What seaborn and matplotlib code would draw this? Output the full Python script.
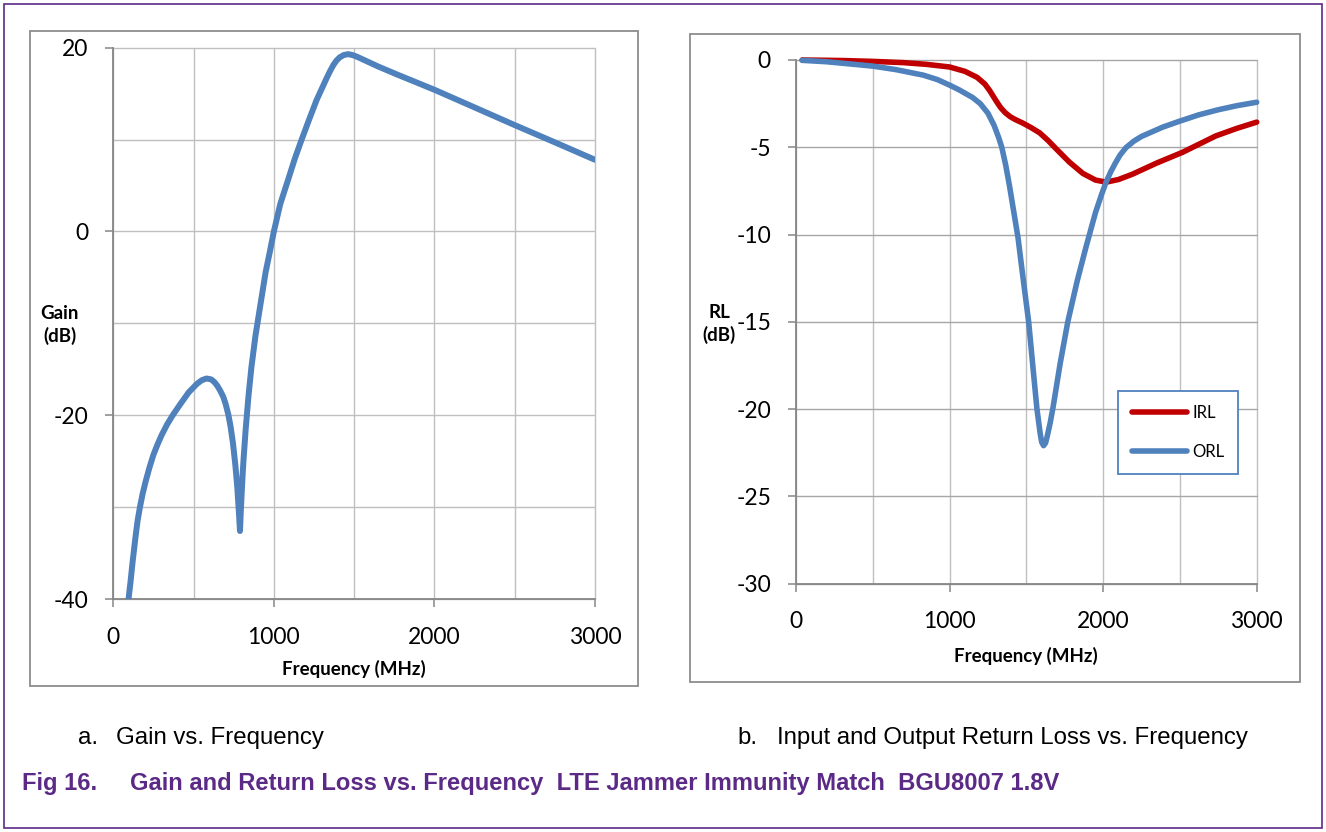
import numpy as np
import pandas as pd
import matplotlib
matplotlib.use("Agg")
import matplotlib.pyplot as plt
from matplotlib.patches import Rectangle
from matplotlib.ticker import MultipleLocator
from matplotlib import font_manager
import seaborn as sns

# ---- Gain vs. frequency (MHz, dB) ----
gain_freq = [95, 108, 120, 130, 140, 152, 166, 182, 200, 225, 250, 275, 300, 335, 370,
             417, 470, 520, 550, 580, 610, 630, 648, 665, 685, 700, 716, 730, 745,
             760, 772, 782, 789, 794, 800, 806, 812, 825, 842, 860, 885, 915, 949,
             975, 1000, 1040, 1090, 1130, 1173, 1220, 1266, 1300, 1329, 1350, 1370,
             1390, 1410, 1435, 1463, 1490, 1520, 1557, 1650, 1765, 2003, 2250, 2497,
             2750, 3000]
gain_db = [-40, -38, -36, -34.5, -33, -31.4, -30, -28.6, -27.3, -25.7, -24.3, -23.2,
           -22.2, -21.0, -20.0, -18.8, -17.5, -16.6, -16.2, -16.0, -16.1, -16.4, -16.8,
           -17.3, -18.0, -18.8, -19.9, -21.2, -23.0, -25.4, -27.8, -30.5, -32.6, -30.5,
           -28.3, -26.3, -24.6, -21.4, -17.9, -14.8, -11.4, -8.1, -4.4, -2.2, 0, 3.0,
           5.7, 7.9, 10.0, 12.2, 14.3, 15.6, 16.7, 17.45, 18.1, 18.6, 18.95, 19.2, 19.3,
           19.2, 19.0, 18.7, 17.95, 17.1, 15.4, 13.5, 11.6, 9.7, 7.8]

# ---- Input return loss (MHz, dB) ----
irl_freq = [40, 300, 500, 700, 850, 1000, 1100, 1180, 1230, 1261, 1300, 1330, 1360,
            1395, 1430, 1478, 1530, 1586, 1640, 1695, 1780, 1868, 1950, 2019, 2100,
            2192, 2350, 2517, 2630, 2734, 2870, 3000]
irl_db = [0, -0.03, -0.08, -0.15, -0.25, -0.4, -0.65, -1.0, -1.38, -1.75, -2.3, -2.7,
          -3.0, -3.25, -3.42, -3.62, -3.87, -4.17, -4.6, -5.1, -5.85, -6.5, -6.88, -7.0,
          -6.85, -6.54, -5.9, -5.29, -4.8, -4.35, -3.92, -3.56]

# ---- Output return loss (MHz, dB) ----
orl_freq = [40, 200, 500, 650, 830, 920, 1000, 1060, 1110, 1150, 1200, 1250, 1290,
            1320, 1340, 1365, 1390, 1420, 1446, 1480, 1515, 1545, 1569, 1590, 1600,
            1612, 1625, 1635, 1655, 1674, 1720, 1770, 1830, 1886, 1950, 1990, 2019,
            2050, 2080, 2110, 2149, 2200, 2250, 2387, 2500, 2620, 2750, 2870, 3000]
orl_db = [-0.02, -0.1, -0.35, -0.55, -0.87, -1.12, -1.44, -1.7, -1.95, -2.15, -2.5,
          -3.05, -3.75, -4.45, -5.0, -6.0, -7.2, -8.8, -10.2, -12.6, -15.0, -17.8,
          -20.0, -21.4, -21.9, -22.1, -21.95, -21.6, -20.8, -19.9, -17.4, -15.0, -12.7,
          -10.8, -8.75, -7.7, -7.0, -6.4, -5.9, -5.45, -5.02, -4.65, -4.38, -3.85,
          -3.5, -3.15, -2.85, -2.62, -2.42]

freq_ticks = [0, 1000, 2000, 3000]
gain_ticks = [-40, -20, 0, 20]
rl_ticks = [-30, -25, -20, -15, -10, -5, 0]

BLUE = "#4F81BD"
RED = "#C00000"
AXIS_GRAY = "#868686"
GRID_GRAY = "#BFBFBF"
PURPLE = "#5B2A86"

sns.set_theme(style="white")
plt.rcParams["font.family"] = ["Lato", "DejaVu Sans"]
plt.rcParams["axes.unicode_minus"] = False

W, H = 1326, 832
fig = plt.figure(figsize=(W / 100, H / 100), dpi=100)
fig.patch.set_facecolor("white")


def fx(px):
    return px / W


def fy(py):
    return 1 - py / H


def frame(x0, y0, x1, y1, color, lw):
    fig.patches.append(Rectangle((fx(x0), fy(y1)), fx(x1) - fx(x0), fy(y0) - fy(y1),
                                 transform=fig.transFigure, fill=False,
                                 edgecolor=color, linewidth=lw, zorder=0))


# page border and chart frames
frame(4, 4, 1322, 828, PURPLE, 1.2)
frame(30, 31, 638, 686, "#8C8C8C", 1.3)
frame(690, 34, 1300, 682, "#8C8C8C", 1.3)

ax1 = fig.add_axes([fx(113.3), fy(599), fx(595) - fx(113.3), fy(47.7) - fy(599)])
ax2 = fig.add_axes([fx(796), fy(583.5), fx(1256.7) - fx(796), fy(60) - fy(583.5)])


def style_axes(ax, yminor, hgrid):
    ax.set_xlim(0, 3000)
    ax.set_xticks(freq_ticks)
    ax.xaxis.set_minor_locator(MultipleLocator(500))
    ax.yaxis.set_minor_locator(MultipleLocator(yminor))
    ax.set_axisbelow(True)
    ax.grid(which="both", axis="x", color=GRID_GRAY, linewidth=1.0)
    ax.grid(which="both", axis="y", color=hgrid, linewidth=1.0)
    for gl in ax.get_xgridlines() + ax.get_ygridlines():
        gl.set_clip_on(False)
    ax.tick_params(which="minor", length=0)
    ax.tick_params(which="major", direction="out", length=6, width=1.1,
                   color=AXIS_GRAY, labelsize=16.5, labelcolor="black")
    ax.tick_params(axis="y", pad=12, left=True)
    ax.tick_params(axis="x", pad=14, bottom=True)
    for s in ["top", "right"]:
        ax.spines[s].set_visible(False)
    for s in ["left", "bottom"]:
        ax.spines[s].set_color(AXIS_GRAY)
        ax.spines[s].set_linewidth(1.3)
        ax.spines[s].set_zorder(1.5)


# ---- left panel: gain ----
gain_df = pd.DataFrame({"Frequency (MHz)": gain_freq, "Gain (dB)": gain_db})
sns.lineplot(data=gain_df, x="Frequency (MHz)", y="Gain (dB)", ax=ax1, color=BLUE,
             linewidth=4.3, estimator=None, sort=False,
             solid_capstyle="round", solid_joinstyle="round")
ax1.set_ylim(-40, 20)
ax1.set_yticks(gain_ticks)
style_axes(ax1, 10, GRID_GRAY)

ax1.set_xlabel("Frequency (MHz)", fontsize=13.5, fontweight="bold", color="black")
ax1.xaxis.label.set_va("center")
ax1.xaxis.set_label_coords(0.5, -0.127)
ax1.set_ylabel("Gain\n(dB)", rotation=0, fontsize=13.5, fontweight="bold",
               color="black", ha="center", va="center", linespacing=1.3)
ax1.yaxis.set_label_coords(-0.111, 0.497)

# ---- right panel: return loss ----
rl_df = pd.concat([
    pd.DataFrame({"f": irl_freq, "rl": irl_db, "series": "IRL"}),
    pd.DataFrame({"f": orl_freq, "rl": orl_db, "series": "ORL"}),
], ignore_index=True)
sns.lineplot(data=rl_df, x="f", y="rl", hue="series",
             palette={"IRL": RED, "ORL": BLUE}, hue_order=["IRL", "ORL"],
             ax=ax2, linewidth=4.0, estimator=None, sort=False, legend=False,
             solid_capstyle="round", solid_joinstyle="round")
for ln in ax2.get_lines():
    ln.set_clip_on(False)
ax2.set_ylim(-30, 0)
ax2.set_yticks(rl_ticks)
style_axes(ax2, 5, "#A6A6A6")

ax2.set_xlabel("Frequency (MHz)", fontsize=13.5, fontweight="bold", color="black")
ax2.xaxis.label.set_va("center")
ax2.xaxis.set_label_coords(0.5, -0.1385)
ax2.set_ylabel("RL\n(dB)", rotation=0, fontsize=13.5, fontweight="bold",
               color="black", ha="center", va="center", linespacing=1.3)
ax2.yaxis.set_label_coords(-0.167, 0.496)

leg = ax2.legend(handles=ax2.get_lines()[:2], labels=["IRL", "ORL"],
                 loc="upper left", bbox_to_anchor=(0.699, 0.3677),
                 frameon=True, fancybox=False, fontsize=12, handlelength=3.3,
                 handletextpad=0.3, labelspacing=1.35, borderpad=0.85,
                 borderaxespad=0)
leg.get_frame().set_edgecolor(BLUE)
leg.get_frame().set_linewidth(1.3)
leg.get_frame().set_facecolor("white")
leg.get_frame().set_alpha(1)
for t in leg.get_texts():
    t.set_color("black")

# ---- captions ----
names = {f.name for f in font_manager.fontManager.ttflist}
if "Liberation Sans Narrow" in names:
    cap_family = ["Liberation Sans Narrow", "Liberation Sans", "DejaVu Sans"]
else:
    cap_family = ["Liberation Sans", "DejaVu Sans"]

renderer = fig.canvas.get_renderer()


def fitted_text(x0, x1, y, s, **kw):
    t = fig.text(fx(x0), fy(y), s, family=cap_family, va="baseline", ha="left",
                 fontsize=20, **kw)
    w = t.get_window_extent(renderer).width
    t.set_fontsize(20 * (x1 - x0) / w)
    return t


ta = fitted_text(116, 324, 744, "Gain vs. Frequency", color="black")
tb = fitted_text(777, 1248, 744, "Input and Output Return Loss vs. Frequency",
                 color="black")
cap_size = 0.5 * (ta.get_fontsize() + tb.get_fontsize())
ta.set_fontsize(cap_size)
tb.set_fontsize(cap_size)
fig.text(fx(78), fy(744), "a.", family=cap_family, fontsize=cap_size,
         va="baseline", ha="left", color="black")
fig.text(fx(737), fy(744), "b.", family=cap_family, fontsize=cap_size,
         va="baseline", ha="left", color="black")

tf = fitted_text(129.5, 1056, 790,
                 "Gain and Return Loss vs. Frequency  LTE Jammer Immunity Match  BGU8007 1.8V",
                 color=PURPLE, fontweight="bold")
fig.text(fx(22), fy(790), "Fig 16.", family=cap_family, fontsize=tf.get_fontsize(),
         fontweight="bold", va="baseline", ha="left", color=PURPLE)

fig.savefig("out.png", dpi=100, facecolor="white")
